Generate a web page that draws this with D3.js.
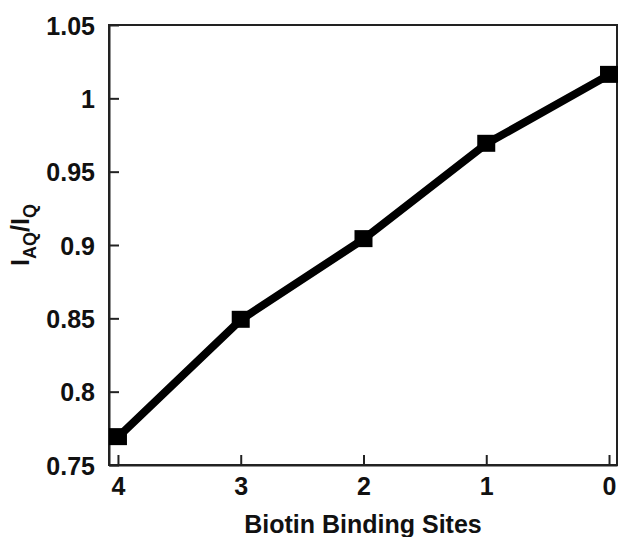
<!DOCTYPE html>
<html>
<head>
<meta charset="utf-8">
<script src="https://cdn.jsdelivr.net/npm/d3@7"></script>
<style>
  html, body { margin: 0; padding: 0; background: #fff; }
  svg text { font-family: "Liberation Sans", Arial, sans-serif; font-weight: bold; fill: #111; }
</style>
</head>
<body>
<svg id="chart" width="618" height="537"></svg>
<script>
// Fluorescence ratio vs. number of free biotin binding sites
const sites = [4, 3, 2, 1, 0];
const ratio = [0.769, 0.849, 0.904, 0.969, 1.016];
const ratioErr = [0.004, 0.004, 0.004, 0.004, 0.004];
const yTicks = [0.75, 0.8, 0.85, 0.9, 0.95, 1, 1.05];
const yTickLabels = ["0.75", "0.8", "0.85", "0.9", "0.95", "1", "1.05"];
const xTicks = [4, 3, 2, 1, 0];

const svg = d3.select("#chart");
const frame = { left: 109, right: 617, top: 25, bottom: 465 };

const x = d3.scaleLinear().domain([4.073, -0.065]).range([frame.left, frame.right]);
const y = d3.scaleLinear().domain([0.75, 1.05]).range([frame.bottom, frame.top]);

// frame box (top and right edges)
svg.append("rect")
  .attr("x", frame.left).attr("y", frame.top)
  .attr("width", frame.right - frame.left).attr("height", frame.bottom - frame.top)
  .attr("fill", "none").attr("stroke", "#222").attr("stroke-width", 2);

// y axis, ticks pointing inward
const yAxis = d3.axisLeft(y).tickValues(yTicks)
  .tickFormat((d, i) => yTickLabels[i]).tickSizeInner(-10).tickSizeOuter(0).tickPadding(14);
const gy = svg.append("g").attr("transform", `translate(${frame.left},0)`).call(yAxis);
gy.select(".domain").attr("stroke", "#222").attr("stroke-width", 2);
gy.selectAll(".tick line").attr("stroke", "#222").attr("stroke-width", 2);
gy.selectAll(".tick text").style("font-size", "25px").attr("dy", "0.36em");

// x axis, ticks pointing inward
const xAxis = d3.axisBottom(x).tickValues(xTicks).tickFormat(d3.format("d"))
  .tickSizeInner(-10).tickSizeOuter(0).tickPadding(12);
const gx = svg.append("g").attr("transform", `translate(0,${frame.bottom})`).call(xAxis);
gx.select(".domain").attr("stroke", "#222").attr("stroke-width", 2);
gx.selectAll(".tick line").attr("stroke", "#222").attr("stroke-width", 2);
gx.selectAll(".tick text").style("font-size", "25px");

// axis titles
svg.append("text")
  .attr("x", 363).attr("y", 533)
  .attr("text-anchor", "middle")
  .style("font-size", "25px")
  .text("Biotin Binding Sites");

const yTitle = svg.append("text")
  .attr("transform", "translate(29,235) rotate(-90)")
  .attr("text-anchor", "middle")
  .style("font-size", "25px");
yTitle.append("tspan").text("I");
yTitle.append("tspan").attr("dy", 7).style("font-size", "18px").text("AQ");
yTitle.append("tspan").attr("dy", -7).text("/I");
yTitle.append("tspan").attr("dy", 7).style("font-size", "18px").text("Q");

// data
const pts = sites.map((s, i) => ({ s, v: ratio[i], e: ratioErr[i] }));

svg.append("path")
  .datum(pts)
  .attr("fill", "none")
  .attr("stroke", "#000")
  .attr("stroke-width", 8)
  .attr("stroke-linejoin", "round")
  .attr("d", d3.line().x(d => x(d.s)).y(d => y(d.v)));

// error bars
const eb = svg.append("g").attr("stroke", "#000").attr("stroke-width", 1.5);
pts.forEach(d => {
  const cx = x(d.s);
  eb.append("line").attr("x1", cx).attr("x2", cx).attr("y1", y(d.v - d.e)).attr("y2", y(d.v + d.e));
  [d.v - d.e, d.v + d.e].forEach(v => {
    eb.append("line").attr("x1", cx - 8).attr("x2", cx + 8).attr("y1", y(v)).attr("y2", y(v));
  });
});

// square markers
const size = 18;
svg.append("g").selectAll("rect")
  .data(pts)
  .join("rect")
  .attr("x", d => x(d.s) - size / 2)
  .attr("y", d => y(d.v) - size / 2)
  .attr("width", size)
  .attr("height", size - 1)
  .attr("fill", "#000");
</script>
</body>
</html>
